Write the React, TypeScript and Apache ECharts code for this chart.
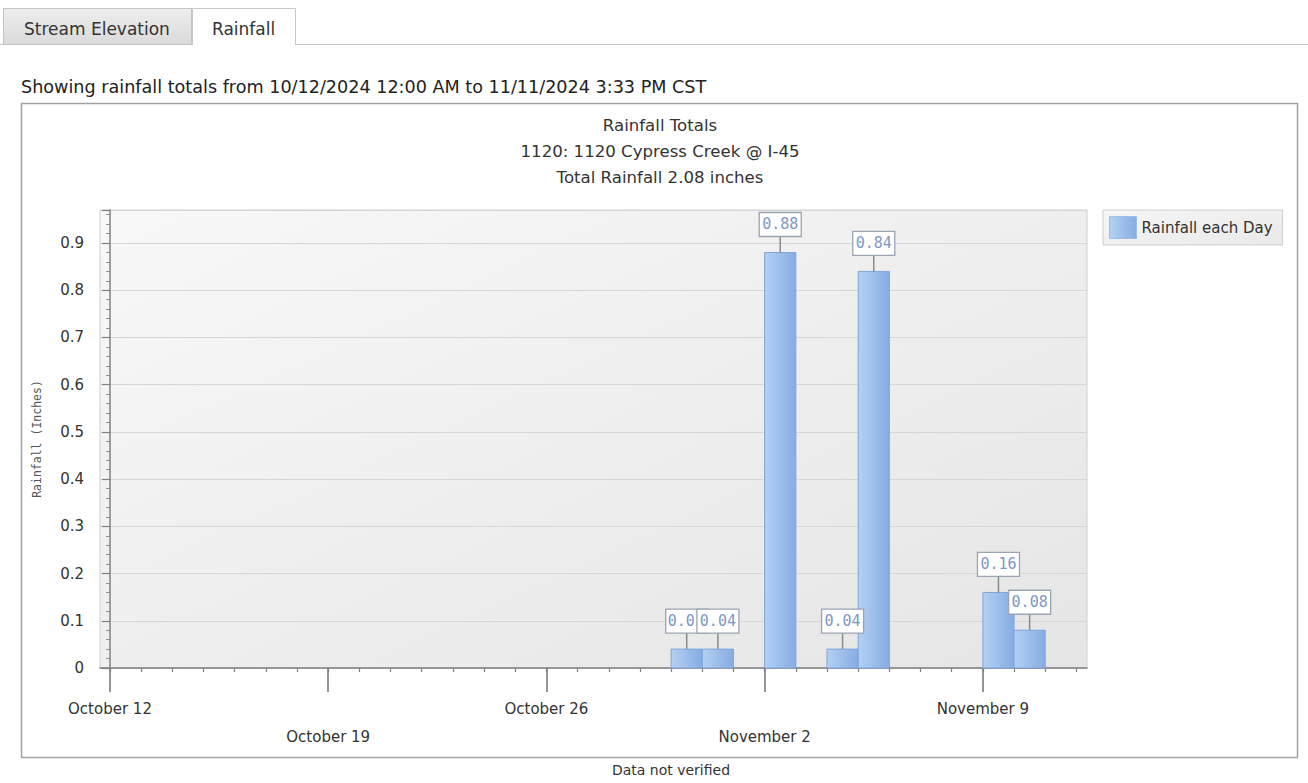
import React, { useEffect, useRef } from 'react';
import * as echarts from 'echarts';

// ---------- data ----------
const startDate = '2024-10-12';
const rainDates = ['2024-10-30', '2024-10-31', '2024-11-02', '2024-11-04', '2024-11-05', '2024-11-09', '2024-11-10'];
const rainValues = [0.04, 0.04, 0.88, 0.04, 0.84, 0.16, 0.08];
const weekTickDays = [0, 7, 14, 21, 28];
const weekTickLabels = ['October 12', 'October 19', 'October 26', 'November 2', 'November 9'];
const dayTickDays = [0, 1, 2, 3, 4, 5, 6, 7, 8, 9, 10, 11, 12, 13, 14, 15, 16, 17, 18, 19, 20, 21, 22, 23, 24, 25, 26, 27, 28, 29, 30, 31];
const titleLines = ['Rainfall Totals', '1120: 1120 Cypress Creek @ I-45', 'Total Rainfall 2.08 inches'];
const seriesName = 'Rainfall each Day';

const DAY_MS = 86400000;
const toDay = (d: string) => Math.round((Date.parse(d) - Date.parse(startDate)) / DAY_MS);

const FONT = '"DejaVu Sans", Verdana, sans-serif';
const MONO = '"DejaVu Sans Mono", monospace';

export default function App() {
  const ref = useRef<HTMLDivElement>(null);

  useEffect(() => {
    document.body.style.margin = '0';
    if (!ref.current) return;
    const chart = echarts.init(ref.current, undefined, { renderer: 'svg' });

    const barFill = {
      type: 'linear', x: 0, y: 0, x2: 1, y2: 0,
      colorStops: [
        { offset: 0, color: '#b4d0f4' },
        { offset: 1, color: '#86ace2' },
      ],
    };

    const data = rainDates.map((d, i) => [toDay(d), rainValues[i]]);
    const labelOf = (day: number) => weekTickLabels[weekTickDays.indexOf(day)] ?? '';
    const BOX_W = 42;
    const BOX_H = 24;
    const GAP = 16;

    const option: any = {
      animation: false,
      backgroundColor: '#ffffff',
      textStyle: { fontFamily: FONT },
      graphic: [
        // tab baseline
        { type: 'line', z: 1, shape: { x1: 0, y1: 44.5, x2: 1308, y2: 44.5 }, style: { stroke: '#c8c8c8', lineWidth: 1 } },
        // inactive tab
        {
          type: 'rect', z: 2, shape: { x: 3.5, y: 8.5, width: 188, height: 36 },
          style: {
            fill: { type: 'linear', x: 0, y: 0, x2: 0, y2: 1, colorStops: [{ offset: 0, color: '#eeeeee' }, { offset: 1, color: '#dadada' }] },
            stroke: '#c4c4c4', lineWidth: 1,
          },
        },
        { type: 'text', z: 3, x: 24, y: 29, style: { text: 'Stream Elevation', font: `17px ${FONT}`, fill: '#333', verticalAlign: 'middle' } },
        // active tab
        { type: 'rect', z: 2, shape: { x: 192, y: 8, width: 103, height: 37 }, style: { fill: '#ffffff' } },
        { type: 'polyline', z: 3, shape: { points: [[192.5, 45], [192.5, 8.5], [295.5, 8.5], [295.5, 45]] }, style: { stroke: '#c8c8c8', lineWidth: 1, fill: 'none' } },
        { type: 'text', z: 3, x: 212, y: 29, style: { text: 'Rainfall', font: `17px ${FONT}`, fill: '#333', verticalAlign: 'middle' } },
        // subtitle text
        { type: 'text', z: 3, x: 21, y: 87, style: { text: 'Showing rainfall totals from 10/12/2024 12:00 AM to 11/11/2024 3:33 PM CST', font: `17.6px ${FONT}`, fill: '#222', verticalAlign: 'middle' } },
        // outer chart box
        { type: 'rect', z: 3, shape: { x: 21.5, y: 103.5, width: 1276, height: 654 }, style: { fill: 'none', stroke: '#a2a2a2', lineWidth: 1.5 } },
        // titles
        ...titleLines.map((t, i) => ({
          type: 'text', z: 3, x: 660, y: 125 + i * 26,
          style: { text: t, font: `16.6px ${FONT}`, fill: '#333', align: 'center', verticalAlign: 'middle' },
        })),
        { type: 'text', z: 3, x: 671, y: 770, style: { text: 'Data not verified', font: `14px ${FONT}`, fill: '#333', align: 'center', verticalAlign: 'middle' } },
      ],
      legend: {
        left: 1103, top: 210,
        orient: 'vertical',
        padding: [6, 10, 6, 6],
        itemWidth: 27, itemHeight: 22,
        backgroundColor: { type: 'linear', x: 0, y: 0, x2: 1, y2: 1, colorStops: [{ offset: 0, color: '#f6f6f6' }, { offset: 1, color: '#e9e9e9' }] },
        borderColor: '#cfcfcf', borderWidth: 1,
        selectedMode: false,
        textStyle: { fontSize: 15, color: '#333', fontFamily: FONT },
        data: [{ name: seriesName, icon: 'rect', itemStyle: { color: barFill, borderColor: '#9dbdea', borderWidth: 1 } }],
      },
      grid: {
        left: 100, top: 210, right: 221, bottom: 115,
        show: true,
        backgroundColor: { type: 'linear', x: 0, y: 0, x2: 1, y2: 1, colorStops: [{ offset: 0, color: '#f8f8f8' }, { offset: 1, color: '#e5e5e5' }] },
        borderColor: '#d0d0d0', borderWidth: 1,
      },
      xAxis: [
        {
          type: 'value', min: -0.32, max: 31.34, position: 'bottom',
          axisLine: { show: true, lineStyle: { color: '#808080', width: 1.5 } },
          axisTick: { show: true, customValues: weekTickDays, length: 24, lineStyle: { color: '#707070', width: 1.5 } },
          axisLabel: {
            customValues: [weekTickDays[0], weekTickDays[2], weekTickDays[4]],
            formatter: (v: number) => labelOf(Math.round(v)),
            margin: 33, fontSize: 15, color: '#333', fontFamily: FONT,
          },
          splitLine: { show: false },
        },
        {
          type: 'value', min: -0.32, max: 31.34, position: 'bottom',
          axisLine: { show: false },
          axisTick: { show: true, customValues: dayTickDays, length: 4, lineStyle: { color: '#808080', width: 1.2 } },
          axisLabel: {
            customValues: [weekTickDays[1], weekTickDays[3]],
            formatter: (v: number) => labelOf(Math.round(v)),
            margin: 61, fontSize: 15, color: '#333', fontFamily: FONT,
          },
          splitLine: { show: false },
        },
      ],
      yAxis: {
        type: 'value', min: 0, max: 0.97, interval: 0.1,
        name: 'Rainfall (Inches)', nameLocation: 'middle', nameGap: 57, nameRotate: 90,
        nameTextStyle: { fontFamily: MONO, fontSize: 11.5, color: '#555' },
        axisLine: { show: true, lineStyle: { color: '#808080', width: 1.5 } },
        axisTick: { show: true, length: 8, lineStyle: { color: '#808080', width: 1.2 } },
        minorTick: { show: true, splitNumber: 5, length: 4, lineStyle: { color: '#909090', width: 1 } },
        axisLabel: {
          margin: 16, fontSize: 15, color: '#333', fontFamily: FONT,
          formatter: (v: number) => {
            const r = Math.round(v * 10);
            return Math.abs(v * 10 - r) < 1e-6 ? String(r / 10) : '';
          },
        },
        splitLine: { show: true, lineStyle: { color: '#d6d6d6', width: 1 } },
      },
      series: [
        {
          type: 'custom',
          name: seriesName,
          xAxisIndex: 0, yAxisIndex: 0,
          z: 2,
          itemStyle: { color: '#9cbfee' },
          encode: { x: 0, y: 1 },
          data,
          renderItem: (_params: any, api: any) => {
            const d = api.value(0) as number;
            const v = api.value(1) as number;
            const tl = api.coord([d, v]);
            const br = api.coord([d + 1, 0]);
            return {
              type: 'rect',
              shape: { x: tl[0], y: tl[1], width: br[0] - tl[0], height: br[1] - tl[1] },
              style: { fill: barFill, stroke: '#7ea4da', lineWidth: 1 },
            };
          },
        },
        {
          type: 'custom',
          name: 'value labels',
          xAxisIndex: 0, yAxisIndex: 0,
          z: 3,
          silent: true,
          encode: { x: 0, y: 1 },
          data,
          renderItem: (params: any, api: any) => {
            const d = api.value(0) as number;
            const v = api.value(1) as number;
            const tl = api.coord([d, v]);
            const br = api.coord([d + 1, 0]);
            const cx = (tl[0] + br[0]) / 2;
            const lineTop = tl[1] - GAP;
            const boxTop = lineTop - BOX_H;
            const boxLeft = cx - BOX_W / 2;

            // Does the next label box cover this one? (it is drawn on top)
            let visibleW = BOX_W;
            const next = data[params.dataIndex + 1];
            if (next) {
              const ntl = api.coord([next[0], next[1]]);
              const nbr = api.coord([next[0] + 1, 0]);
              const ncx = (ntl[0] + nbr[0]) / 2;
              const nBoxTop = ntl[1] - GAP - BOX_H;
              const nLeft = ncx - BOX_W / 2;
              const vOverlap = nBoxTop < boxTop + BOX_H && nBoxTop + BOX_H > boxTop;
              if (vOverlap && nLeft < boxLeft + BOX_W) visibleW = nLeft - boxLeft;
            }
            const truncated = visibleW < BOX_W;
            const textEl = truncated
              ? {
                  type: 'text',
                  x: boxLeft + 2, y: boxTop + BOX_H / 2,
                  style: {
                    text: v.toFixed(2), fill: '#7d98c5', font: `15px ${MONO}`,
                    align: 'left', verticalAlign: 'middle',
                    width: visibleW - 2, overflow: 'truncate', ellipsis: '',
                  },
                }
              : {
                  type: 'text',
                  x: cx, y: boxTop + BOX_H / 2,
                  style: { text: v.toFixed(2), fill: '#7d98c5', font: `15px ${MONO}`, align: 'center', verticalAlign: 'middle' },
                };

            return {
              type: 'group',
              children: [
                {
                  type: 'line',
                  shape: { x1: cx, y1: tl[1], x2: cx, y2: lineTop },
                  style: { stroke: '#8a8a8a', lineWidth: 1.5 },
                },
                {
                  type: 'rect',
                  shape: { x: boxLeft, y: boxTop, width: BOX_W, height: BOX_H },
                  style: { fill: '#ffffff', stroke: '#9ba4b4', lineWidth: 1.3 },
                },
                textEl,
              ],
            };
          },
        },
      ],
    };

    chart.setOption(option);
    return () => chart.dispose();
  }, []);

  return <div ref={ref} style={{ width: 1308, height: 783 }} />;
}
